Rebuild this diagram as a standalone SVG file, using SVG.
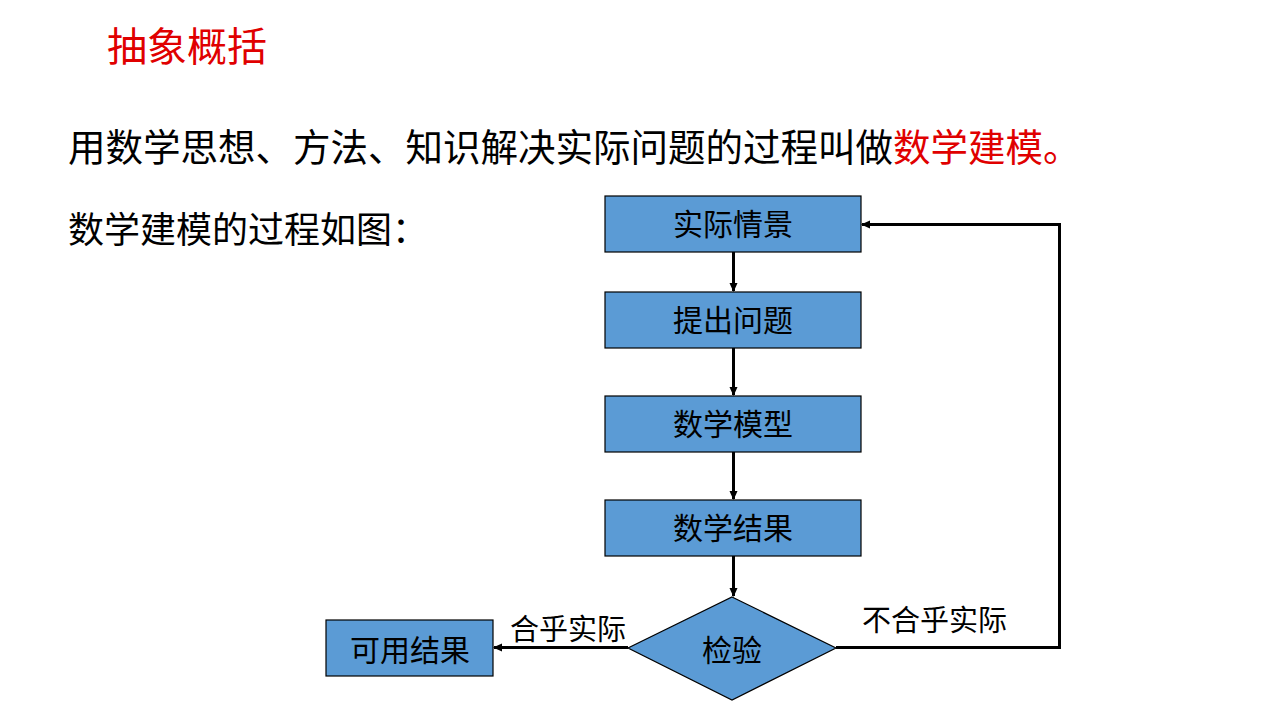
<svg xmlns="http://www.w3.org/2000/svg" width="1280" height="720" viewBox="0 0 1280 720">
<style>
text{font-family:"Liberation Sans","Noto Sans CJK SC",sans-serif;}
.box{fill:#5b9bd5;stroke:#000;stroke-width:1.2;}
.bt{font-size:30px;fill:#000;text-anchor:middle;dominant-baseline:central;}
.lab{font-size:29px;fill:#000;}
.line{fill:none;stroke:#000;stroke-width:3;}
</style>
<defs>
<marker id="ah" markerWidth="10" markerHeight="10" refX="8" refY="5" orient="auto" markerUnits="userSpaceOnUse">
<path d="M0,1 L9,5 L0,9 Z" fill="#000"/>
</marker>
</defs>
<rect width="1280" height="720" fill="#fff"/>
<text x="107" y="61" font-size="40" fill="#e00000">抽象概括</text>
<text x="68" y="161" font-size="37.5" fill="#000">用数学思想、方法、知识解决实际问题的过程叫做<tspan fill="#e00000">数学建模。</tspan></text>
<text x="68" y="243" font-size="36" fill="#000">数学建模的过程如图：</text>
<g id="n1"><rect class="box" x="605" y="196" width="256" height="56"/><text class="bt" x="733" y="224">实际情景</text></g>
<g id="n2"><rect class="box" x="605" y="292" width="256" height="56"/><text class="bt" x="733" y="320">提出问题</text></g>
<g id="n3"><rect class="box" x="605" y="396" width="256" height="56"/><text class="bt" x="733" y="424">数学模型</text></g>
<g id="n4"><rect class="box" x="605" y="500" width="256" height="56"/><text class="bt" x="733" y="528">数学结果</text></g>
<g id="n5"><polygon class="box" points="732,597 836,648 732,700 628,648"/><text class="bt" x="732" y="650">检验</text></g>
<g id="n6"><rect class="box" x="326" y="620" width="167" height="56"/><text class="bt" x="410" y="650">可用结果</text></g>
<g id="edges">
<line class="line" x1="733.5" y1="252" x2="733.5" y2="291" marker-end="url(#ah)"/>
<line class="line" x1="733.5" y1="348" x2="733.5" y2="395" marker-end="url(#ah)"/>
<line class="line" x1="733.5" y1="452" x2="733.5" y2="499" marker-end="url(#ah)"/>
<line class="line" x1="733.5" y1="556" x2="733.5" y2="596" marker-end="url(#ah)"/>
<line class="line" x1="628" y1="647.5" x2="494" y2="647.5" marker-end="url(#ah)"/>
<polyline class="line" points="836,647.5 1059.5,647.5 1059.5,224.5 862,224.5" marker-end="url(#ah)"/>
<text class="lab" x="510" y="640">合乎实际</text>
<text class="lab" x="862" y="631">不合乎实际</text>
</g>
</svg>
